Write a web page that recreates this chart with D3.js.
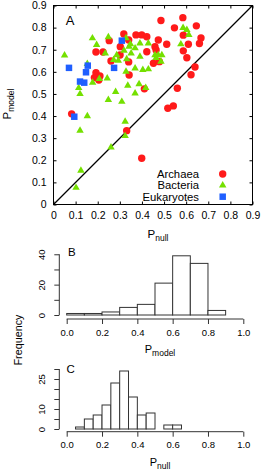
<!doctype html>
<html lang="en">
<head>
<meta charset="utf-8">
<title>P model vs P null</title>
<style>
body { margin: 0; background: #fff; }
text { font-family: "Liberation Sans", Arial, Helvetica, sans-serif; fill: #000; }
</style>
</head>
<body>
<div id="mychart"></div>
<script src="https://d3js.org/d3.v7.min.js"></script>
<script>
// panel A data: [P_null, P_model]
var archaea = [
  [0.486,0.832],[0.585,0.845],[0.547,0.799],[0.646,0.808],[0.587,0.766],[0.667,0.753],
  [0.660,0.728],[0.610,0.725],[0.587,0.695],[0.603,0.664],[0.640,0.622],[0.622,0.587],
  [0.560,0.526],[0.542,0.446],[0.517,0.435],[0.512,0.725],[0.474,0.744],[0.459,0.714],
  [0.464,0.699],[0.422,0.691],[0.452,0.639],[0.479,0.646],[0.373,0.767],[0.399,0.767],
  [0.422,0.759],[0.318,0.771],[0.252,0.741],[0.340,0.744],[0.302,0.714],[0.224,0.690],
  [0.192,0.690],[0.260,0.649],[0.301,0.676],[0.340,0.645],[0.192,0.596],[0.210,0.581],
  [0.185,0.574],[0.205,0.563],[0.342,0.586],[0.411,0.523],[0.082,0.410],[0.331,0.334],
  [0.399,0.209]
];
var bacteria = [
  [0.050,0.675],[0.176,0.752],[0.195,0.722],[0.234,0.684],[0.248,0.757],[0.272,0.654],
  [0.293,0.651],[0.286,0.676],[0.319,0.696],[0.328,0.753],[0.348,0.725],[0.342,0.714],
  [0.369,0.707],[0.391,0.729],[0.429,0.729],[0.459,0.676],[0.464,0.663],[0.474,0.676],
  [0.490,0.676],[0.486,0.646],[0.576,0.725],[0.586,0.799],[0.603,0.790],[0.612,0.767],
  [0.391,0.669],[0.351,0.684],[0.331,0.658],[0.404,0.609],[0.429,0.612],[0.369,0.616],
  [0.328,0.601],[0.153,0.636],[0.114,0.527],[0.120,0.500],[0.177,0.551],[0.207,0.568],
  [0.243,0.571],[0.248,0.473],[0.281,0.510],[0.309,0.465],[0.336,0.538],[0.369,0.503],
  [0.387,0.545],[0.417,0.528],[0.153,0.400],[0.120,0.334],[0.324,0.375],[0.324,0.310],
  [0.260,0.259],[0.124,0.153],[0.102,0.076]
];
var eukaryotes = [
  [0.070,0.618],[0.155,0.628],[0.147,0.598],[0.120,0.556],[0.139,0.551],[0.274,0.618],
  [0.309,0.741],[0.094,0.397]
];
var legendNames = ["Archaea", "Bacteria", "Eukaryotes"];
var scatterTicks = [0,0.1,0.2,0.3,0.4,0.5,0.6,0.7,0.8,0.9];
var scatterTickLabels = ["0","0.1","0.2","0.3","0.4","0.5","0.6","0.7","0.8","0.9"];

// panel B: histogram of P_model
var histBStart = [0,0.1,0.2,0.3,0.4,0.5,0.6,0.7,0.8];
var histBCounts = [1,1,2,5,7,21,39,34,3];
var histBYTicks = [0,10,20,30,40];
var histBYLabels = ["0","","20","","40"];

// panel C: histogram of P_null
var histCStart = [0.05,0.10,0.15,0.20,0.25,0.30,0.35,0.40,0.45,0.50,0.55,0.60];
var histCCounts = [1,5,7,12,23,29,16,7,8,0,2,2];
var histCYTicks = [0,5,10,15,20,25,30];
var histCYLabels = ["0","","10","","","25",""];

var histXTicks = [0,0.2,0.4,0.6,0.8,1.0];
var histXLabels = ["0.0","0.2","0.4","0.6","0.8","1.0"];

var width = 263, height = 474;
var svg = d3.select("#mychart").append("svg")
  .attr("width", width)
  .attr("height", height);

// ---------- panel A ----------
var x = d3.scaleLinear().domain([0,0.9]).range([53.5,252.5]);
var y = d3.scaleLinear().domain([0,0.9]).range([204.5,5.5]);

var fmtA = function(d,i) { return scatterTickLabels[i]; };
var gx = svg.append("g").attr("transform","translate(0,204.5)")
  .call(d3.axisBottom(x).tickValues(scatterTicks).tickSize(-3).tickPadding(7).tickFormat(fmtA));
var gx2 = svg.append("g").attr("transform","translate(0,5.5)")
  .call(d3.axisTop(x).tickValues(scatterTicks).tickSize(-3).tickFormat(""));
var gy = svg.append("g").attr("transform","translate(53.5,0)")
  .call(d3.axisLeft(y).tickValues(scatterTicks).tickSize(-3).tickPadding(7).tickFormat(fmtA));
var gy2 = svg.append("g").attr("transform","translate(252.5,0)")
  .call(d3.axisRight(y).tickValues(scatterTicks).tickSize(-3).tickFormat(""));
[gx,gx2,gy,gy2].forEach(function(g) {
  g.select(".domain").remove();
  g.selectAll("line").attr("stroke","#000");
  g.selectAll("text").attr("font-size","10.5px").attr("font-family",null);
});

svg.append("rect")
  .attr("x",x(0)).attr("y",y(0.9))
  .attr("width",x(0.9)-x(0)).attr("height",y(0)-y(0.9))
  .attr("fill","none").attr("stroke","#000").attr("stroke-width",1);

svg.append("line")
  .attr("x1",x(0)).attr("y1",y(0)).attr("x2",x(0.9)).attr("y2",y(0.9))
  .attr("stroke","#000").attr("stroke-width",1.2);

svg.selectAll("circle.arch").data(archaea).enter()
  .append("circle").attr("class","arch")
  .attr("cx",function(d) { return x(d[0]); })
  .attr("cy",function(d) { return y(d[1]); })
  .attr("r",3.7)
  .attr("fill","#ff1a1a");

var tri = d3.symbol().type(d3.symbolTriangle).size(24);
svg.selectAll("path.bact").data(bacteria).enter()
  .append("path").attr("class","bact")
  .attr("d",tri)
  .attr("transform",function(d) { return "translate(" + x(d[0]) + "," + y(d[1]) + ")"; })
  .attr("fill","#74e000");

var sq = d3.symbol().type(d3.symbolSquare).size(42);
svg.selectAll("path.euk").data(eukaryotes).enter()
  .append("path").attr("class","euk")
  .attr("d",sq)
  .attr("transform",function(d) { return "translate(" + x(d[0]) + "," + y(d[1]) + ")"; })
  .attr("fill","#1f5fff");

// legend
var legY = [174, 185.3, 196.7];
legendNames.forEach(function(n,i) {
  svg.append("text").attr("x",199).attr("y",legY[i]).attr("dy","0.35em")
    .attr("text-anchor","end").attr("font-size","11.3px").text(n);
});
svg.append("circle").attr("cx",222.7).attr("cy",legY[0]).attr("r",3.7).attr("fill","#ff1a1a");
svg.append("path").attr("d",tri).attr("transform","translate(222.7," + legY[1] + ")").attr("fill","#74e000");
svg.append("path").attr("d",sq).attr("transform","translate(222.7," + legY[2] + ")").attr("fill","#1f5fff");

svg.append("text").attr("x",65.7).attr("y",25).attr("font-size","13px").text("A");

var xl = svg.append("text").attr("x",158).attr("y",238).attr("text-anchor","middle").attr("font-size","11.5px");
xl.append("tspan").text("P");
xl.append("tspan").attr("font-size","8.5px").attr("dy",3).text("null");

var yl = svg.append("text").attr("transform","translate(10.5,104) rotate(-90)").attr("text-anchor","middle").attr("font-size","11.5px");
yl.append("tspan").text("P");
yl.append("tspan").attr("font-size","8.5px").attr("dy",3).text("model");

// ---------- histograms ----------
function histogram(starts, counts, binW, yTop, base, axisY, yTicks, yLabels, label, sub, labelY) {
  var hx = d3.scaleLinear().domain([0,1]).range([66.7,243.3]);
  var hy = d3.scaleLinear().domain([0,yTop]).range([base, base - yTop * (base === 315 ? 1.518 : 2)]);
  var g = svg.append("g");
  g.selectAll("rect").data(counts).enter().append("rect")
    .attr("x",function(d,i) { return hx(starts[i]); })
    .attr("y",function(d) { return hy(d); })
    .attr("width",function(d,i) { return hx(starts[i] + binW) - hx(starts[i]); })
    .attr("height",function(d) { return hy(0) - hy(d); })
    .attr("fill","#fff").attr("stroke","#333").attr("stroke-width",1);

  var ax = svg.append("g").attr("transform","translate(0," + axisY + ")")
    .call(d3.axisBottom(hx).tickValues(histXTicks).tickSize(5).tickPadding(5)
      .tickFormat(function(d,i) { return histXLabels[i]; }));
  ax.select(".domain").attr("stroke","#333").attr("d","M" + hx(0) + ",0H" + hx(1));
  ax.selectAll("line").attr("stroke","#333");
  ax.selectAll("text").attr("font-size","9.5px").attr("font-family",null);

  var ay = svg.append("g").attr("transform","translate(59.3,0)")
    .call(d3.axisLeft(hy).tickValues(yTicks).tickSize(5).tickPadding(0)
      .tickFormat(function(d,i) { return yLabels[i]; }));
  ay.select(".domain").attr("stroke","#333").attr("d","M0," + hy(yTicks[0]) + "V" + hy(yTicks[yTicks.length-1]));
  ay.selectAll("line").attr("stroke","#333");
  ay.selectAll("text").attr("font-size","9.5px").attr("font-family",null)
    .attr("text-anchor","middle").attr("x",null).attr("dy",null)
    .attr("transform","translate(-14,0) rotate(-90)");

  var t = svg.append("text").attr("x",160).attr("y",labelY).attr("text-anchor","middle").attr("font-size","11px");
  t.append("tspan").text("P");
  t.append("tspan").attr("font-size","8.5px").attr("dy",3).text(sub);
}

histogram(histBStart, histBCounts, 0.1, 40, 315, 319, histBYTicks, histBYLabels, "B", "model", 353);
histogram(histCStart, histCCounts, 0.05, 30, 429, 431.7, histCYTicks, histCYLabels, "C", "null", 466);

svg.append("text").attr("x",68).attr("y",255.7).attr("font-size","11.5px").text("B");
svg.append("text").attr("x",66.5).attr("y",373.3).attr("font-size","11.5px").text("C");

svg.append("text").attr("transform","translate(22,340) rotate(-90)")
  .attr("text-anchor","middle").attr("font-size","10.8px").text("Frequency");
</script>
</body>
</html>
